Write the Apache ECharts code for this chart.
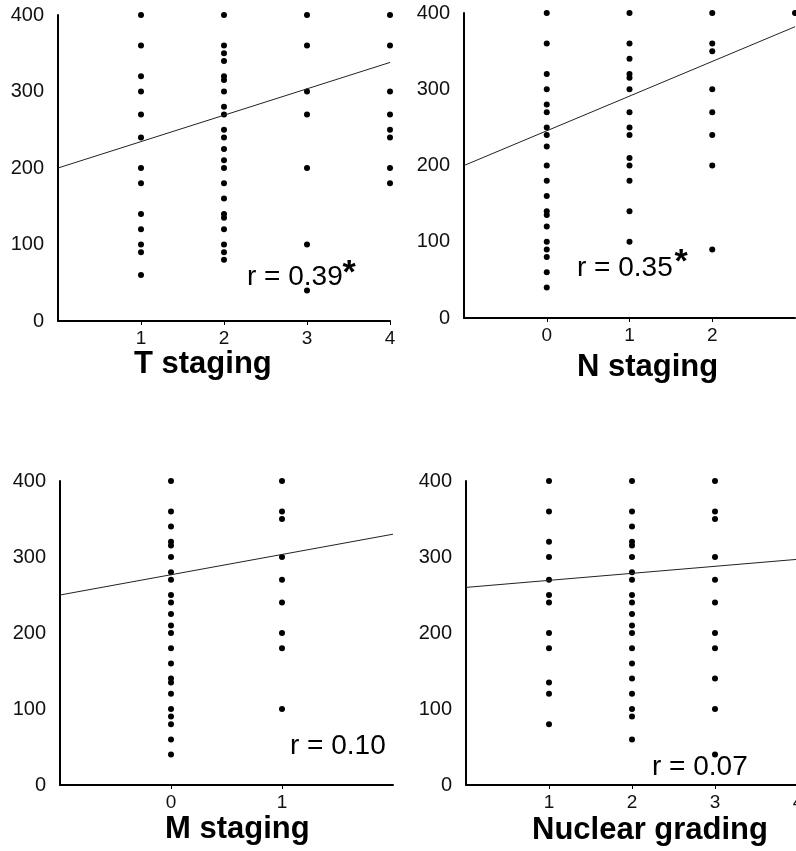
<!DOCTYPE html>
<html>
<head>
<meta charset="utf-8">
<script src="https://cdn.jsdelivr.net/npm/echarts@6/dist/echarts.min.js"></script>
<style>
    html, body { margin: 0; padding: 0; background: #fff; }
    #chart { width: 796px; height: 851px; }
</style>
</head>
<body>
<div id="chart"></div>
<script>
// 各面板的分类和数值
const tStageCats = [1, 2, 3, 4];
const tStageVals = [
    [400, 360, 320, 300, 270, 240, 200, 180, 140, 120, 100, 90, 60],
    [400, 360, 350, 340, 320, 315, 300, 280, 270, 250, 240, 225, 210, 200, 180, 160, 140, 135, 120, 100, 90, 80],
    [400, 360, 300, 270, 200, 100, 40],
    [400, 360, 300, 270, 250, 240, 200, 180]
];
const tFit = [[0, 200], [4, 338]];

const nStageCats = [0, 1, 2, 3];
const nStageVals = [
    [400, 360, 320, 300, 280, 270, 250, 240, 225, 200, 180, 160, 140, 135, 120, 100, 90, 80, 60, 40],
    [400, 360, 340, 320, 315, 300, 270, 250, 240, 210, 200, 180, 140, 100],
    [400, 360, 350, 300, 270, 240, 200, 90],
    [400]
];
const nFit = [[-1, 200], [3, 382]];

const mStageCats = [0, 1];
const mStageVals = [
    [400, 360, 340, 320, 315, 300, 280, 270, 250, 240, 225, 210, 200, 180, 160, 140, 135, 120, 100, 90, 80, 60, 40],
    [400, 360, 350, 300, 270, 240, 200, 180, 100]
];
const mFit = [[-1, 250], [2, 330]];

const gradeCats = [1, 2, 3];
const gradeVals = [
    [400, 360, 320, 300, 270, 250, 240, 200, 180, 135, 120, 80],
    [400, 360, 340, 320, 315, 300, 280, 270, 250, 240, 225, 210, 200, 180, 160, 140, 120, 100, 90, 60],
    [400, 360, 350, 300, 270, 240, 200, 180, 140, 100, 40]
];
const gFit = [[0, 260], [4, 297]];

const panelTitles = ['T staging', 'N staging', 'M staging', 'Nuclear grading'];
const rLabels = ['r = 0.39', 'r = 0.35', 'r = 0.10', 'r = 0.07'];

const FONT = '"Liberation Sans", Arial, sans-serif';

function toPoints(cats, vals) {
    let pts = [];
    cats.forEach((c, i) => {
        vals[i].forEach(v => pts.push([c, v]));
    });
    return pts;
}

var chart = echarts.init(document.getElementById('chart'));

// 网格位置
const grids = [
    { left: 58, top: 15, width: 332, height: 306 },
    { left: 464, top: 13, width: 331, height: 305 },
    { left: 60, top: 481, width: 333, height: 304 },
    { left: 466, top: 481, width: 332, height: 304 }
].map(g => Object.assign(g, { outerBoundsMode: 'none', containLabel: false }));
const xRanges = [[0, 4, true], [-1, 3, false], [-1, 2, false], [0, 4, true]];

var option = {
    animation: false,
    backgroundColor: '#fff',
    grid: grids,
    xAxis: xRanges.map((r, i) => ({
        type: 'value',
        gridIndex: i,
        min: r[0],
        max: r[1],
        interval: 1,
        splitLine: { show: false },
        axisLine: { onZero: false, lineStyle: { color: '#000', width: 2 } },
        axisTick: { show: true, length: 4, lineStyle: { color: '#000', width: 1 } },
        axisLabel: {
            showMinLabel: false,
            showMaxLabel: r[2],
            color: '#111',
            fontSize: 19,
            fontFamily: FONT,
            margin: 8
        }
    })),
    yAxis: grids.map((g, i) => ({
        type: 'value',
        gridIndex: i,
        min: 0,
        max: 400,
        interval: 100,
        splitLine: { show: false },
        axisLine: { show: true, onZero: false, lineStyle: { color: '#000', width: 2 } },
        axisTick: { show: false },
        axisLabel: { color: '#111', fontSize: 20, fontFamily: FONT, margin: 14 }
    })),
    series: [],
    graphic: []
};

const allPoints = [
    toPoints(tStageCats, tStageVals),
    toPoints(nStageCats, nStageVals),
    toPoints(mStageCats, mStageVals),
    toPoints(gradeCats, gradeVals)
];
const fits = [tFit, nFit, mFit, gFit];

allPoints.forEach((pts, i) => {
    option.series.push({
        type: 'scatter',
        xAxisIndex: i,
        yAxisIndex: i,
        data: pts,
        symbolSize: 6,
        itemStyle: { color: '#000', opacity: 1 }
    });
    option.series.push({
        type: 'line',
        xAxisIndex: i,
        yAxisIndex: i,
        data: fits[i],
        showSymbol: false,
        lineStyle: { color: '#222', width: 1 }
    });
});

// 标题和 r 值文字
const titlePos = [[134, 364], [577, 367], [165, 829], [532, 830]];
const rPos = [[247, 277], [577, 268], [290, 746], [652, 767]];
const starPos = [[349, 274], [681, 263]];

titlePos.forEach((p, i) => {
    option.graphic.push({
        type: 'text', x: p[0], y: p[1], z: 100,
        style: { text: panelTitles[i], fill: '#000', font: 'bold 31px ' + FONT, align: 'left', verticalAlign: 'middle' }
    });
});
rPos.forEach((p, i) => {
    option.graphic.push({
        type: 'text', x: p[0], y: p[1], z: 100,
        style: { text: rLabels[i], fill: '#000', font: '28px ' + FONT, align: 'left', verticalAlign: 'middle' }
    });
});
starPos.forEach(p => {
    option.graphic.push({
        type: 'text', x: p[0], y: p[1], z: 100,
        style: { text: '*', fill: '#000', font: 'bold 34px ' + FONT, align: 'center', verticalAlign: 'middle' }
    });
});

chart.setOption(option);
</script>
</body>
</html>
